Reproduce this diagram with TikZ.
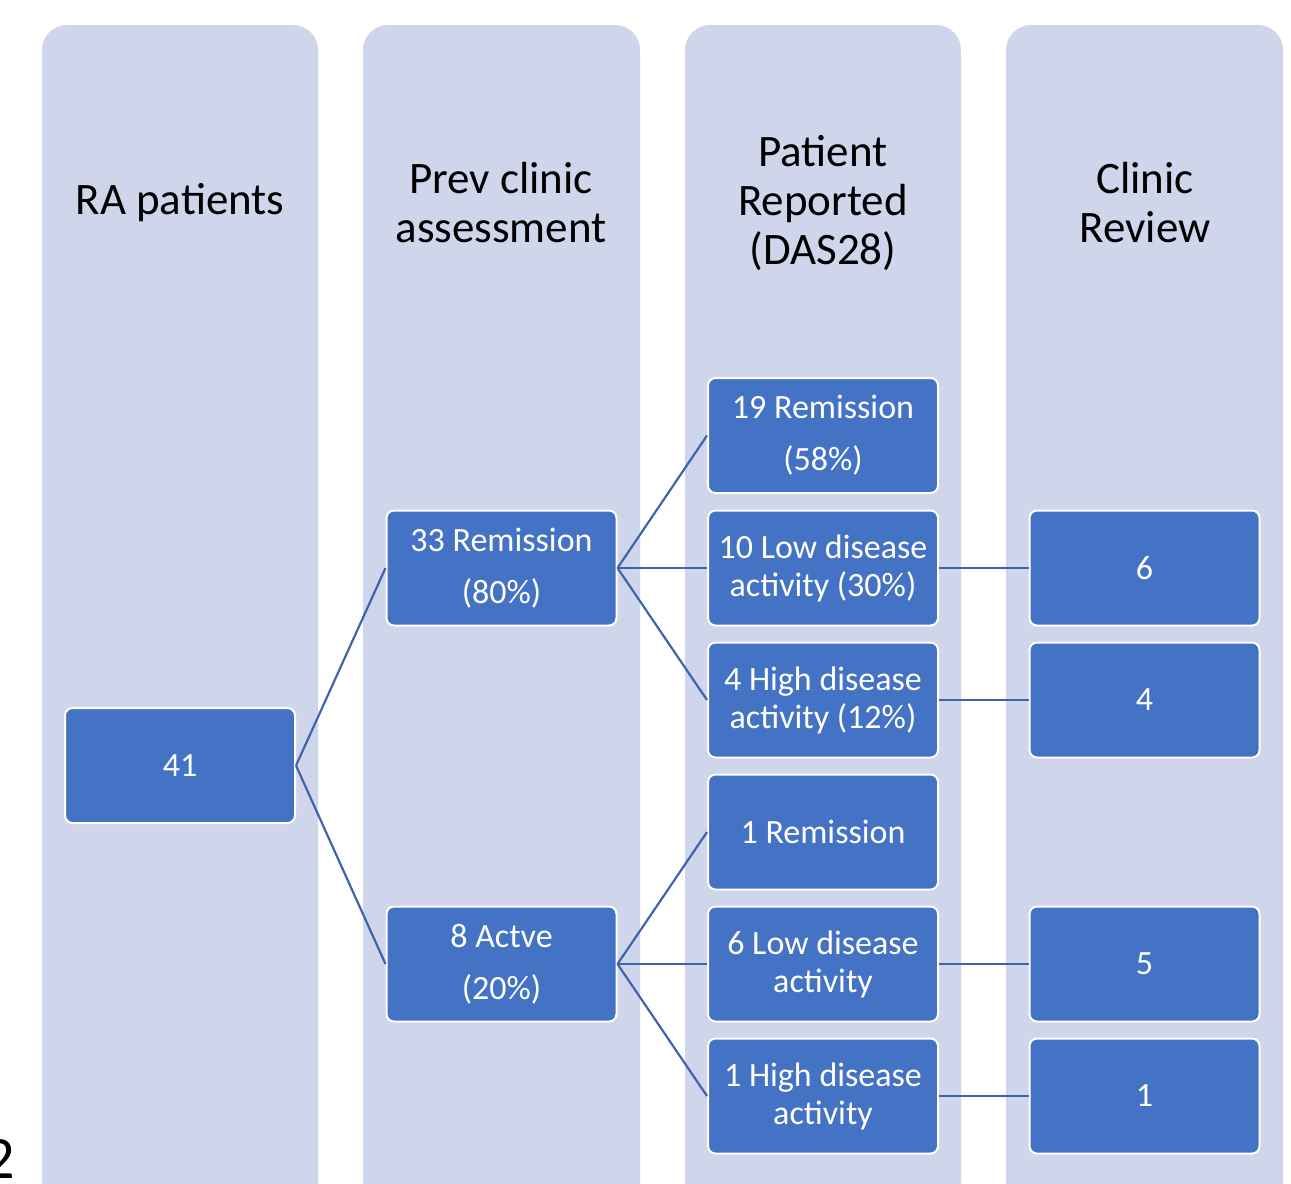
\documentclass[tikz,border=0pt]{standalone}
\usepackage{fontspec}
\setmainfont{Carlito}
\definecolor{colbg}{HTML}{CFD5EA}
\definecolor{boxblue}{HTML}{4472C4}
\definecolor{linkblue}{HTML}{3F62AE}
\begin{document}
\begin{tikzpicture}[x=0.6pt,y=-0.6pt,
  column/.style={fill=colbg,draw=none,rounded corners=15pt},
  header/.style={text=black,align=center,inner sep=0pt,font=\fontsize{27}{29.4}\selectfont},
  box/.style={fill=boxblue,draw=white,line width=1.2pt,rounded corners=4.5pt,
    minimum width=138pt,minimum height=69pt,text=white,align=center,inner sep=0pt,
    font=\fontsize{20.4}{22.8}\selectfont},
  link/.style={draw=linkblue,line width=1.3pt}]
\clip (0,0) rectangle (1291,1183);
\fill[white] (0,0) rectangle (1291,1183);
% columns
\path[column] (42,25) rectangle (318,1230);
\path[column] (363,25) rectangle (640,1230);
\path[column] (685,25) rectangle (961,1230);
\path[column] (1006,25) rectangle (1283,1230);
% headers
\node[header] (h1) at (180,203) {RA patients};
\node[header] (h2) at (501,203) {Prev clinic\\assessment};
\node[header] (h3) at (823,203) {Patient\\Reported\\(DAS28)};
\node[header] (h4) at (1145,203) {Clinic\\Review};
% boxes
\node[box] (n41) at (180,765.5) {41};
\node[box] (rem33) at (501.5,568) {33 Remission\\[8.4pt](80\%)};
\node[box] (act8) at (501.5,964) {8 Actve\\[8.4pt](20\%)};
\node[box] (rem19) at (823,435.5) {19 Remission\\[8.4pt](58\%)};
\node[box] (low10) at (823,568) {10 Low disease\\activity (30\%)};
\node[box] (high4) at (823,700) {4 High disease\\activity (12\%)};
\node[box] (rem1) at (823,832) {1 Remission};
\node[box] (low6) at (823,964) {6 Low disease\\activity};
\node[box] (high1) at (823,1096) {1 High disease\\activity};
\node[box] (r6) at (1144.5,568) {6};
\node[box] (r4) at (1144.5,700) {4};
\node[box] (r5) at (1144.5,964) {5};
\node[box] (r1) at (1144.5,1096) {1};
% links
\draw[link] (n41.east) -- (rem33.west);
\draw[link] (n41.east) -- (act8.west);
\draw[link] (rem33.east) -- (rem19.west);
\draw[link] (rem33.east) -- (low10.west);
\draw[link] (rem33.east) -- (high4.west);
\draw[link] (act8.east) -- (rem1.west);
\draw[link] (act8.east) -- (low6.west);
\draw[link] (act8.east) -- (high1.west);
\draw[link] (low10.east) -- (r6.west);
\draw[link] (high4.east) -- (r4.west);
\draw[link] (low6.east) -- (r5.west);
\draw[link] (high1.east) -- (r1.west);
% page number fragment (cut off at the left edge, as in the reference)
\node[anchor=base east,inner sep=0pt,font=\fontsize{36}{40}\selectfont] (pg) at (15,1178) {2};
\end{tikzpicture}
\end{document}
